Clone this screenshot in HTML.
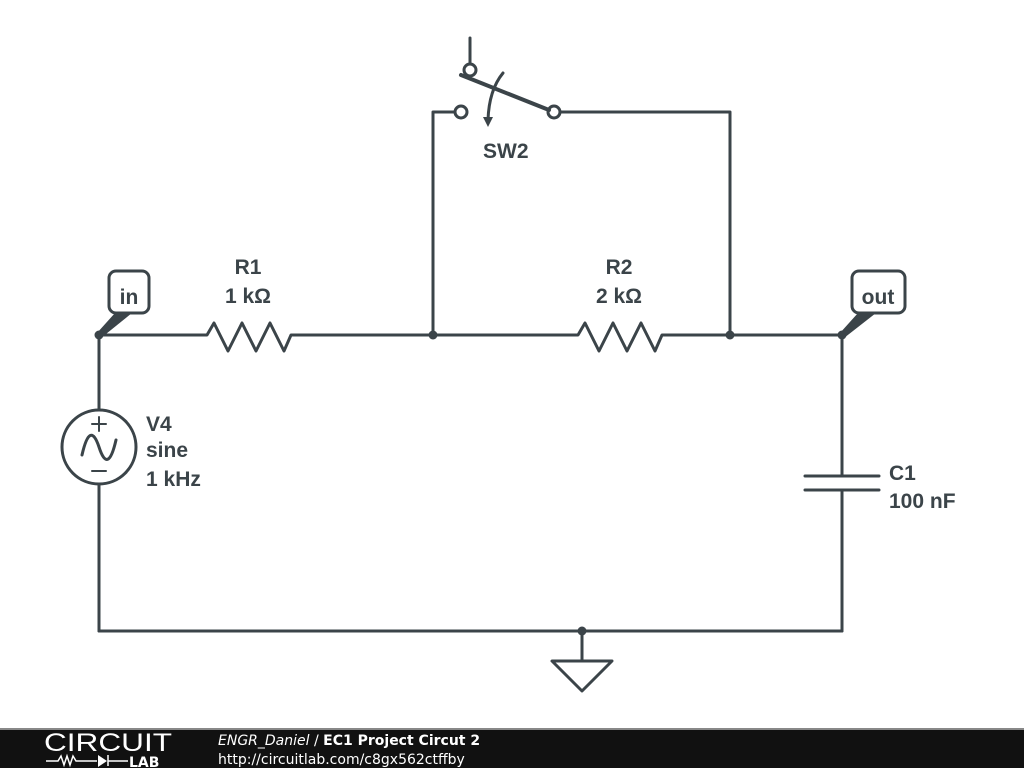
<!DOCTYPE html>
<html><head><meta charset="utf-8"><style>
html,body{margin:0;padding:0;background:#fff;width:1024px;height:768px;overflow:hidden}
</style></head><body>
<svg width="1024" height="768" viewBox="0 0 1024 768" xmlns="http://www.w3.org/2000/svg">
<g stroke="#3b4449" stroke-width="3" fill="none" stroke-linejoin="round" stroke-linecap="round">
<polyline points="99,335 207,335 214,323 228,351 242,323 256,351 270,323 284,351 291,335 578,335 585,323 599,351 613,323 627,351 641,323 655,351 662,335 842,335"/>
<line x1="99" y1="335" x2="99" y2="410"/>
<circle cx="99" cy="447" r="37"/>
<line x1="99" y1="484" x2="99" y2="631"/>
<line x1="99" y1="631" x2="842" y2="631"/>
<line x1="842" y1="335" x2="842" y2="476"/>
<line x1="805" y1="476" x2="879" y2="476"/>
<line x1="805" y1="490" x2="879" y2="490"/>
<line x1="842" y1="490" x2="842" y2="631"/>
<line x1="582" y1="631" x2="582" y2="661"/>
<polygon points="552,661 612,661 582,691"/>
<polyline points="433,335 433,112 455,112"/>
<circle cx="461" cy="112" r="6"/>
<circle cx="554" cy="112" r="6"/>
<polyline points="560,112 730,112 730,335"/>
<line x1="470" y1="38" x2="470" y2="64"/>
<circle cx="470" cy="70" r="6"/>
<line x1="461" y1="75" x2="549" y2="110" stroke-width="4"/>
<path d="M503,73 Q489,90 488,120"/>
<path d="M82,455 Q90,420 99,447 Q108,475 116,440"/>
<line x1="99" y1="417" x2="99" y2="431" stroke-width="2"/><line x1="92" y1="424" x2="106" y2="424" stroke-width="2"/>
<line x1="92" y1="471" x2="106" y2="471" stroke-width="2"/>
<rect x="109" y="271" width="40" height="42" rx="7"/>
<rect x="852" y="271" width="53" height="42" rx="7"/>
</g>
<g fill="#3b4449">
<polygon points="483,117 493,117 488,127"/>
<circle cx="99" cy="335" r="4.5"/><circle cx="433" cy="335" r="4.5"/><circle cx="730" cy="335" r="4.5"/><circle cx="842" cy="335" r="4.5"/><circle cx="582" cy="631" r="4.5"/>
<polygon points="97,333 115,313 132,313 101,338"/>
<polygon points="840,333 858,313 876,313 844,338"/>
</g>
<g font-family="Liberation Sans, Arial, sans-serif" font-weight="bold" font-size="21" fill="#3b4449">
<text x="129" y="304" text-anchor="middle">in</text>
<text x="878" y="304" text-anchor="middle">out</text>
<text x="248" y="274" text-anchor="middle">R1</text>
<text x="248" y="303" text-anchor="middle">1 kΩ</text>
<text x="619" y="274" text-anchor="middle">R2</text>
<text x="619" y="303" text-anchor="middle">2 kΩ</text>
<text x="483" y="158">SW2</text>
<text x="146" y="431">V4</text>
<text x="146" y="457">sine</text>
<text x="146" y="486">1 kHz</text>
<text x="889" y="480">C1</text>
<text x="889" y="508">100 nF</text>
</g>
<rect x="0" y="728" width="1024" height="40" fill="#111"/>
<rect x="0" y="728" width="1024" height="2" fill="#888"/>
<text x="44" y="751" font-family="Liberation Sans, sans-serif" font-size="25" fill="#fff" textLength="128" lengthAdjust="spacingAndGlyphs">CIRCUIT</text>
<g stroke="#fff" stroke-width="1.5" fill="none"><polyline points="46,761 58,761 61,756 64,765 67,756 70,765 73,756 76,761 97,761"/><line x1="108" y1="755" x2="108" y2="766"/><line x1="108" y1="761" x2="128" y2="761"/></g>
<polygon points="98,755 98,767 107,761" fill="#fff"/>
<text x="129" y="767" font-family="DejaVu Sans, sans-serif" font-weight="bold" font-size="14" fill="#fff">LAB</text>
<text x="218" y="745" font-family="DejaVu Sans, sans-serif" font-size="14" fill="#fff"><tspan font-style="italic">ENGR_Daniel</tspan> / <tspan font-weight="bold">EC1 Project Circut 2</tspan></text>
<text x="218" y="764" font-family="DejaVu Sans, sans-serif" font-size="14" fill="#fff">http://circuitlab.com/c8gx562ctffby</text>
</svg>
</body></html>
